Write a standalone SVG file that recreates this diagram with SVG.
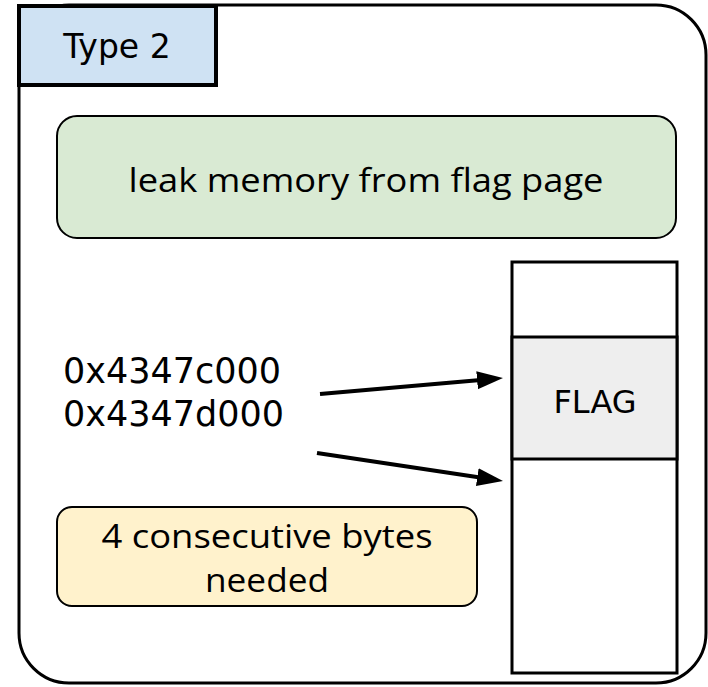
<svg xmlns="http://www.w3.org/2000/svg" width="708" height="687" viewBox="0 0 708 687">
<style>
.dv{font-family:"DejaVu Sans",sans-serif;fill:#000}
.ub{font-family:"Open Sans","DejaVu Sans",sans-serif;fill:#000}
.box{stroke:#000;stroke-width:2}
.conn{stroke:#000;stroke-width:4;fill:none}
</style>
<defs>
<marker id="ah" markerWidth="7" markerHeight="5" refX="4.5" refY="2.25" orient="auto" markerUnits="strokeWidth">
<path d="M0,0 L6.5,2.25 L0,4.5 Z" fill="#000"/>
</marker>
</defs>
<g id="frame">
<rect x="19" y="5" width="687" height="678" rx="50" ry="50" fill="#fff" stroke="#000" stroke-width="3"/>
</g>
<g id="type2">
<rect x="19" y="6" width="197" height="79" fill="#cfe2f3" stroke="#000" stroke-width="4"/>
<text class="dv" x="117" y="58" font-size="33" text-anchor="middle">Type 2</text>
</g>
<g id="leak">
<rect x="57" y="116" width="619" height="122" rx="20" ry="20" fill="#d9ead3" class="box"/>
<text class="ub" x="366" y="192" font-size="32" text-anchor="middle" textLength="475" lengthAdjust="spacingAndGlyphs">leak memory from flag page</text>
</g>
<g id="memory">
<rect x="512" y="262" width="165" height="411" fill="#fff" stroke="#000" stroke-width="3"/>
<rect x="512" y="337" width="165" height="122" fill="#eeeeee" stroke="#000" stroke-width="3"/>
<text class="dv" x="595" y="413" font-size="32" text-anchor="middle">FLAG</text>
</g>
<g id="addresses">
<text class="dv" x="63" y="383" font-size="35">0x4347c000</text>
<text class="dv" x="63" y="426" font-size="35">0x4347d000</text>
</g>
<g id="note">
<rect x="57" y="507" width="420" height="99" rx="15" ry="15" fill="#fff2cc" class="box"/>
<text class="ub" x="267" y="548" font-size="32" text-anchor="middle" textLength="331" lengthAdjust="spacingAndGlyphs">4 consecutive bytes</text>
<text class="ub" x="267" y="592" font-size="32" text-anchor="middle" textLength="124" lengthAdjust="spacingAndGlyphs">needed</text>
</g>
<g id="connectors">
<line class="conn" x1="320" y1="394" x2="495" y2="378.7" marker-end="url(#ah)"/>
<line class="conn" x1="317" y1="453" x2="495.1" y2="479.8" marker-end="url(#ah)"/>
</g>
</svg>
